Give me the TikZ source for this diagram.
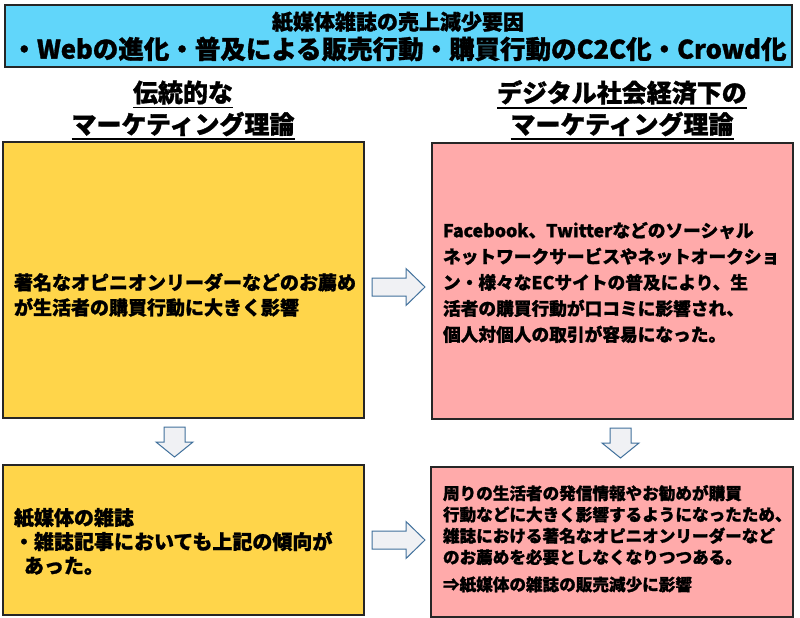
\documentclass[tikz,border=0pt]{standalone}
\usepackage{fontspec}
\setmainfont{Noto Sans CJK JP}[BoldFeatures={FakeBold=1.2}]
\usetikzlibrary{calc}
\definecolor{titleblue}{RGB}{97,214,250}
\definecolor{boxyellow}{RGB}{255,213,74}
\definecolor{boxpink}{RGB}{255,170,170}
\definecolor{arrowline}{RGB}{65,113,156}
\definecolor{arrowfill}{RGB}{240,241,244}
\newcommand{\fs}[2]{\fontsize{#1}{#2}\selectfont\bfseries}
\newcommand{\rblock}[1]{\draw[blk] (#1) ++(0,-9) -- ++(34,0) -- ++(0,-9.5) -- ++(19,18.5) -- ++(-19,18.5) -- ++(0,-9.5) -- ++(-34,0) -- cycle;}
\newcommand{\dblock}[1]{\draw[blk] (#1) ++(-10.5,0) -- ++(0,15) -- ++(-8,0) -- ++(18.5,15) -- ++(18.5,-15) -- ++(-8,0) -- ++(0,-15) -- cycle;}
\begin{document}
\begin{tikzpicture}[x=1pt,y=-1pt,
  panel/.style={draw=black!85, line width=1.2pt, inner sep=0pt, outer sep=0pt, anchor=north west},
  txt/.style={inner sep=0pt, outer sep=0pt, align=left, anchor=north west},
  head/.style={inner sep=0pt, outer sep=0pt, font=\fs{25}{30}},
  uline/.style={line width=1.8pt},
  blk/.style={draw=arrowline, fill=arrowfill, line width=1pt, line join=miter}]
\useasboundingbox[fill=white] (0,0) rectangle (800,618);
% title
\node[panel, fill=titleblue, minimum width=787, minimum height=62] (titlebox) at (5,5) {};
\node[inner sep=0pt, font=\fs{21}{25}] (t1) at (398,22) {紙媒体雑誌の売上減少要因};
\node[inner sep=0pt, font=\fs{25.5}{30}] (t2) at (399,49) {・Webの進化・普及による販売行動・購買行動のC2C化・Crowd化};
% headings
\node[head] (hl1) at (183,92.5) {伝統的な};
\node[head] (hl2) at (183,124) {マーケティング理論};
\node[head] (hr1) at (622,92.5) {デジタル社会経済下の};
\node[head] (hr2) at (622,124) {マーケティング理論};
\foreach \h in {hl1,hl2,hr1,hr2}{
  \draw[uline] ([yshift=-3pt]\h.south west) -- ([yshift=-3pt]\h.south east);
}
% boxes
\node[panel, fill=boxyellow, minimum width=361, minimum height=276] (lbox) at (3,142) {};
\node[panel, fill=boxpink, minimum width=361, minimum height=276] (rbox) at (432,143) {};
\node[panel, fill=boxyellow, minimum width=361, minimum height=150] (lbox2) at (3,465) {};
\node[panel, fill=boxpink, minimum width=362, minimum height=150] (rbox2) at (431,467) {};
% texts
\node[txt, font=\fs{19}{25}] (ltext) at (14,273)
  {著名なオピニオンリーダーなどのお薦め\\が生活者の購買行動に大きく影響};
\node[txt, font=\fs{17.7}{26}] (rtext) at (443,222)
  {Facebook、Twitterなどのソーシャル\\ネットワークサービスやネットオークショ\\ン・様々なECサイトの普及により、生\\活者の購買行動が口コミに影響され、\\個人対個人の取引が容易になった。};
\node[txt, font=\fs{20}{24}] (ltext2) at (14,508)
  {紙媒体の雑誌\\・雑誌記事においても上記の傾向が\\\hspace*{10pt}あった。};
\node[txt, font=\fs{16.6}{21.3}] (rtext2) at (443,485)
  {周りの生活者の発信情報やお勧めが購買\\行動などに大きく影響するようになったため、\\雑誌における著名なオピニオンリーダーなど\\のお薦めを必要としなくなりつつある。\\[6pt]⇒紙媒体の雑誌の販売減少に影響};
% block arrows
\coordinate (ar1) at ($(lbox.east)+(8,7)$);
\coordinate (ar2) at ($(lbox2.east)+(8,0)$);
\coordinate (ad1) at ($(lbox.south)+(-9,9)$);
\coordinate (ad2) at ($(rbox.south)+(8,9)$);
\rblock{ar1}
\rblock{ar2}
\dblock{ad1}
\dblock{ad2}
\end{tikzpicture}
\end{document}
